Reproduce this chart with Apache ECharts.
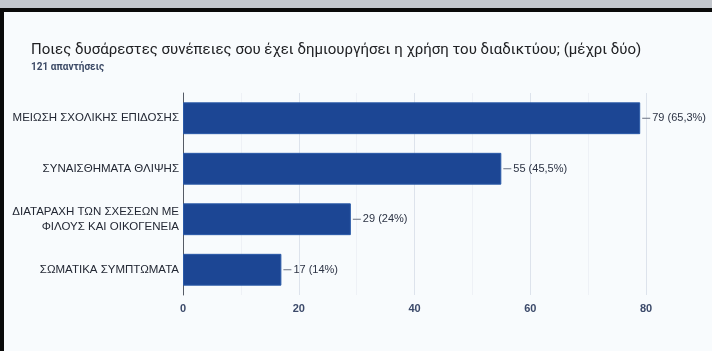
<!DOCTYPE html>
<html>
<head>
<meta charset="utf-8">
<script src="https://cdn.jsdelivr.net/npm/echarts@6/dist/echarts.min.js"></script>
<style>
  html, body { margin: 0; padding: 0; background: #f8fbfd; }
  #chart { width: 712px; height: 351px; }
</style>
</head>
<body>
<div id="chart"></div>
<script>
// Survey answers, listed top to bottom
const categories = [
  'ΜΕΙΩΣΗ ΣΧΟΛΙΚΗΣ ΕΠΙΔΟΣΗΣ',
  'ΣΥΝΑΙΣΘΗΜΑΤΑ ΘΛΙΨΗΣ',
  'ΔΙΑΤΑΡΑΧΗ ΤΩΝ ΣΧΕΣΕΩΝ ΜΕ\nΦΙΛΟΥΣ ΚΑΙ ΟΙΚΟΓΕΝΕΙΑ',
  'ΣΩΜΑΤΙΚΑ ΣΥΜΠΤΩΜΑΤΑ'
];
const counts = [79, 55, 29, 17];
const percents = ['65,3%', '45,5%', '24%', '14%'];
const xTicks = [0, 20, 40, 60, 80];

const titleText = 'Ποιες δυσάρεστες συνέπειες σου έχει δημιουργήσει η χρήση του διαδικτύου; (μέχρι δύο)';
const subtitleText = '121 απαντήσεις';

const labelFont = '"Liberation Sans", Arial, sans-serif';

const chart = echarts.init(document.getElementById('chart'), null, { renderer: 'canvas' });

chart.setOption({
  backgroundColor: '#f8fbfd',
  animation: false,
  textStyle: { fontFamily: 'Roboto, "Noto Sans", sans-serif' },
  title: {
    text: titleText,
    subtext: subtitleText,
    left: 26,
    top: 38,
    itemGap: 4,
    textStyle: { fontSize: 15, fontWeight: 'normal', color: '#202124', fontFamily: 'Roboto, sans-serif' },
    subtextStyle: { fontSize: 10, fontWeight: 'bold', color: '#3c4a66', fontFamily: 'Roboto, sans-serif' }
  },
  graphic: [
    { type: 'rect', left: 0, top: 0, shape: { width: 712, height: 8 }, style: { fill: '#c3c7cd' }, z: 100 },
    { type: 'rect', left: 0, top: 8, shape: { width: 712, height: 4 }, style: { fill: '#0a0a0a' }, z: 100 },
    { type: 'rect', left: 0, top: 8, shape: { width: 4, height: 343 }, style: { fill: '#0a0a0a' }, z: 100 }
  ],
  grid: { left: 183, right: 66, top: 93, bottom: 56, containLabel: false },
  xAxis: {
    type: 'value',
    min: xTicks[0],
    max: xTicks[xTicks.length - 1],
    interval: 20,
    axisLine: { show: false },
    axisTick: { show: false },
    axisLabel: { color: '#3c4a6a', fontSize: 11, fontWeight: 'bold', fontFamily: labelFont, margin: 8 },
    splitLine: { show: true, lineStyle: { color: '#dde3ec', width: 1 } },
    minorTick: { show: false, splitNumber: 2 },
    minorSplitLine: { show: true, lineStyle: { color: '#eef1f6', width: 1 } }
  },
  yAxis: {
    type: 'category',
    data: categories,
    inverse: true,
    axisLine: { show: true, lineStyle: { color: '#555b66', width: 1 } },
    axisTick: { show: false },
    axisLabel: { color: '#232834', fontSize: 11.5, fontFamily: labelFont, margin: 4, lineHeight: 15, align: 'right' }
  },
  series: [{
    type: 'bar',
    data: counts,
    barWidth: '63%',
    itemStyle: { color: '#1c4694', borderColor: '#2a5aa8', borderWidth: 1 },
    label: {
      show: true,
      position: 'right',
      distance: 2,
      formatter: function (p) {
        return '{line|}{val|' + counts[p.dataIndex] + ' (' + percents[p.dataIndex] + ')}';
      },
      rich: {
        line: { width: 8, height: 1, backgroundColor: '#6a7080' },
        val: { color: '#2c3344', fontSize: 11, fontFamily: labelFont, padding: [0, 0, 0, 2] }
      }
    }
  }]
});
</script>
</body>
</html>
